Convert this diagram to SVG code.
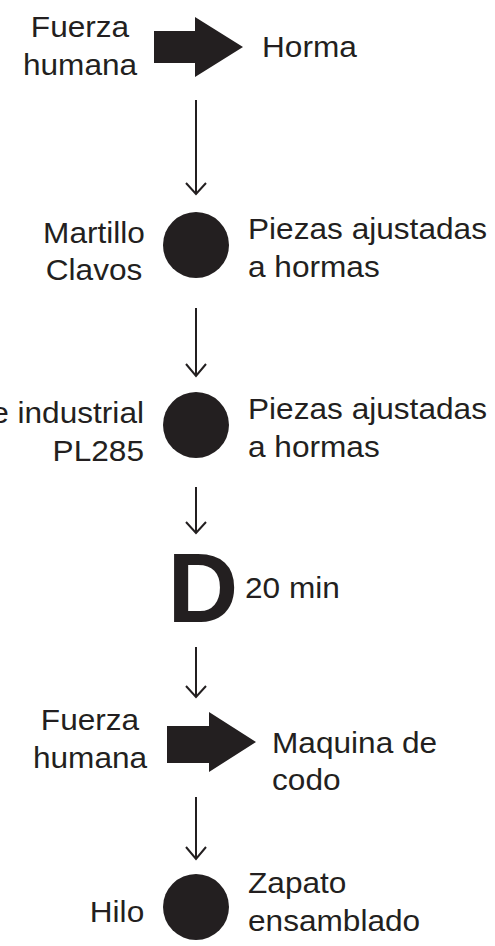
<svg xmlns="http://www.w3.org/2000/svg" width="495" height="946" viewBox="0 0 495 946">
<style>
text{font-family:"Liberation Sans",Arial,sans-serif;font-size:29px;fill:#231f20}
.m{text-anchor:middle}.e{text-anchor:end}
.ln{stroke:#231f20;stroke-width:2;fill:none}
.sym{fill:#231f20}
</style>
<rect width="495" height="946" fill="#fff"/>
<g id="connectors">
<path class="ln" d="M196 100V194M186 183L196 194L206 183"/>
<path class="ln" d="M196 308V376M186 364L196 376L206 364"/>
<path class="ln" d="M196 487V533M186 522L196 533L206 522"/>
<path class="ln" d="M196 647V697M186 686L196 697L206 686"/>
<path class="ln" d="M196 797V859M186 847L196 859L206 847"/>
</g>
<g id="n1">
<path class="sym" d="M154 31H195V17L243 47L195 77V63H154Z"/>
<text class="m" transform="translate(80,37) scale(1.09 1)">Fuerza</text>
<text class="m" transform="translate(80,75) scale(1.09 1)">humana</text>
<text transform="translate(262,57) scale(1.09 1)">Horma</text>
</g>
<g id="n2">
<circle class="sym" cx="196" cy="245" r="33"/>
<text class="m" transform="translate(94,243) scale(1.09 1)">Martillo</text>
<text class="m" transform="translate(94,280) scale(1.09 1)">Clavos</text>
<text transform="translate(248,239) scale(1.09 1)">Piezas ajustadas</text>
<text transform="translate(248,277) scale(1.09 1)">a hormas</text>
</g>
<g id="n3">
<circle class="sym" cx="196" cy="425" r="33"/>
<text class="e" transform="translate(144,423) scale(1.09 1)">e industrial</text>
<text class="e" transform="translate(144,461) scale(1.09 1)">PL285</text>
<text transform="translate(248,419) scale(1.09 1)">Piezas ajustadas</text>
<text transform="translate(248,457) scale(1.09 1)">a hormas</text>
</g>
<g id="n4">
<text x="167.5" y="622" style="font-size:98px;font-weight:bold">D</text>
<text transform="translate(245,598) scale(1.09 1)">20 min</text>
</g>
<g id="n5">
<path class="sym" d="M167 726H209V712L256 742L209 772V763H167Z"/>
<text class="m" transform="translate(90,730) scale(1.09 1)">Fuerza</text>
<text class="m" transform="translate(90,768) scale(1.09 1)">humana</text>
<text transform="translate(272,753) scale(1.09 1)">Maquina de</text>
<text transform="translate(272,790) scale(1.09 1)">codo</text>
</g>
<g id="n6">
<circle class="sym" cx="196" cy="907" r="33"/>
<text class="m" transform="translate(117,922) scale(1.09 1)">Hilo</text>
<text transform="translate(248,893) scale(1.09 1)">Zapato</text>
<text transform="translate(248,931) scale(1.09 1)">ensamblado</text>
</g>
</svg>
